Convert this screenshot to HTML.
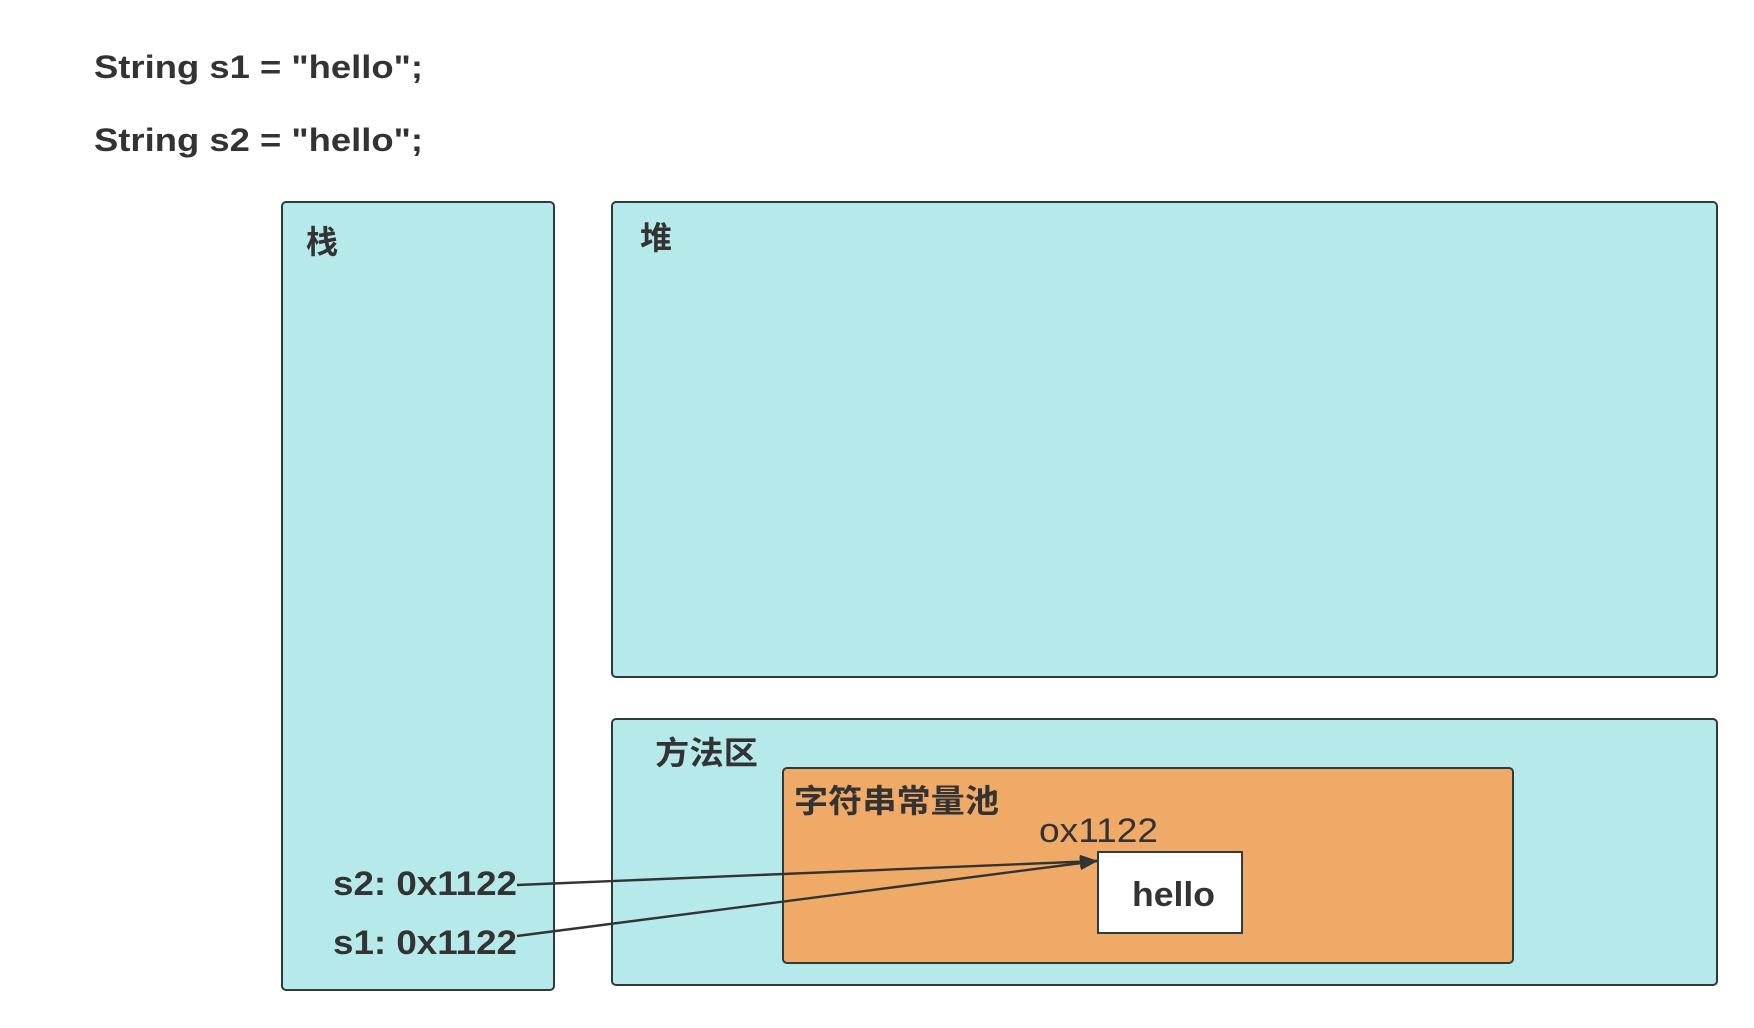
<!DOCTYPE html>
<html><head><meta charset="utf-8"><style>
html,body{margin:0;padding:0;background:#fff;width:1754px;height:1028px;overflow:hidden}
text{font-family:"Liberation Sans","Noto Sans CJK SC",sans-serif;fill:#333}
</style></head><body>
<svg width="1754" height="1028" viewBox="0 0 1754 1028" xmlns="http://www.w3.org/2000/svg">
<defs><marker id="a" markerWidth="18" markerHeight="14" refX="17" refY="7" orient="auto" markerUnits="userSpaceOnUse"><path d="M0,0 L18,7 L0,14 z" fill="#333"/></marker></defs>
<text x="94" y="78" font-size="32" font-weight="bold" textLength="329" lengthAdjust="spacingAndGlyphs">String s1 = "hello";</text>
<text x="94" y="151" font-size="32" font-weight="bold" textLength="329" lengthAdjust="spacingAndGlyphs">String s2 = "hello";</text>
<rect x="282" y="202" width="272" height="788" rx="4" fill="#b6eaea" stroke="#2f3b3b" stroke-width="2"/>
<rect x="612" y="202" width="1105" height="475" rx="4" fill="#b6eaea" stroke="#2f3b3b" stroke-width="2"/>
<rect x="612" y="719" width="1105" height="266" rx="4" fill="#b6eaea" stroke="#2f3b3b" stroke-width="2"/>
<rect x="783" y="768" width="730" height="195" rx="4" fill="#f0aa67" stroke="#2f3b3b" stroke-width="2"/>
<rect x="1098" y="852" width="144" height="81" fill="#fff" stroke="#2f3b3b" stroke-width="2"/>
<text x="306" y="253" font-size="32" font-weight="bold">栈</text>
<text x="640" y="249" font-size="32" font-weight="bold">堆</text>
<text x="655" y="764" font-size="32" font-weight="bold" textLength="103" lengthAdjust="spacingAndGlyphs">方法区</text>
<text x="794" y="812" font-size="32" font-weight="bold" textLength="205" lengthAdjust="spacingAndGlyphs">字符串常量池</text>
<text x="1039" y="842" font-size="34" textLength="119" lengthAdjust="spacingAndGlyphs">ox1122</text>
<text x="1132" y="906" font-size="34" font-weight="bold" textLength="83" lengthAdjust="spacingAndGlyphs">hello</text>
<text x="333" y="895" font-size="34" font-weight="bold" textLength="184" lengthAdjust="spacingAndGlyphs">s2: 0x1122</text>
<text x="333" y="954" font-size="34" font-weight="bold" textLength="184" lengthAdjust="spacingAndGlyphs">s1: 0x1122</text>
<line x1="517" y1="885" x2="1097" y2="861" stroke="#333" stroke-width="2.4" marker-end="url(#a)"/>
<line x1="517" y1="936" x2="1097" y2="861" stroke="#333" stroke-width="2.4" marker-end="url(#a)"/>
</svg>
</body></html>
